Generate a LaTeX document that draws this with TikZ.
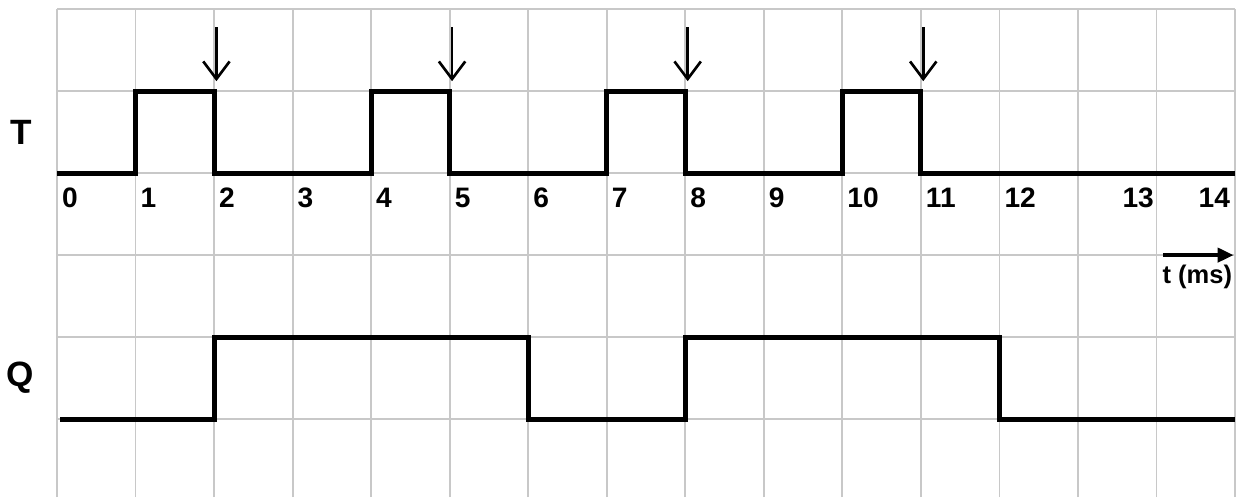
\documentclass[tikz,border=0pt]{standalone}
\usepackage{fontspec}
\setmainfont{Liberation Sans}
\usetikzlibrary{arrows.meta}
\definecolor{gridgray}{RGB}{200,200,200}
\tikzset{
	signal/.style={line width=2.8pt,line join=miter},
	ticklbl/.style={font=\fontsize{16}{18}\selectfont\bfseries,inner sep=0pt},
	siglbl/.style={font=\fontsize{20}{22}\selectfont\bfseries,inner sep=0pt},
}
\begin{document}
\begin{tikzpicture}[x=1.57cm,y=1.64cm,>=stealth]
			\useasboundingbox (-0.726,0.049) rectangle (15.025,6.11);
			\foreach \x in {0,...,15}{\draw[gridgray,line width=1pt] (\x,0.049)--(\x,6);}
			\foreach \y in {1,...,6}{\draw[gridgray,line width=1pt] (0,\y)--(15,\y);}
			% T
			\draw[signal] (0,4)--(1,4)--(1,5)--(2,5)--(2,4)--(4,4)--(4,5)--(5,5)--(5,4)--(7,4)--(7,5)--(8,5)--(8,4)--(10,4)--(10,5)--(11,5)--(11,4)--(15,4);
			% Q
			\draw[signal] (0.04,1)--(2,1)--(2,2)--(6,2)--(6,1)--(8,1)--(8,2)--(12,2)--(12,1)--(15,1);
			% falling edges
			\foreach \x in {2,5,8,11}{\draw[line width=1.5pt,-{Straight Barb[length=10pt,width=15pt]}] (\x+0.03,5.78)--(\x+0.03,5.12);}
			\foreach \k in {0,...,12}{\node[ticklbl,anchor=base west] (n\k) at (\k+0.06,3.585) {\k};}
			\node[ticklbl,anchor=base east] (n13) at (13.97,3.585) {13};
			\node[ticklbl,anchor=base east] (n14) at (14.94,3.585) {14};
			\coordinate (ta) at (14.08,3);
			\coordinate (tb) at (14.98,3);
			\draw[line width=2.2pt,-{Triangle[length=9pt,width=8pt]}] (ta)--(tb);
			\node[font=\fontsize{14.5}{16}\selectfont\bfseries,inner sep=0pt] (tms) at (14.52,2.73) {t (ms)};
			\node[siglbl] (T) at (-0.45,4.49) {T};
			\node[siglbl] (Q) at (-0.47,1.5) {Q};
		\end{tikzpicture}
\end{document}
